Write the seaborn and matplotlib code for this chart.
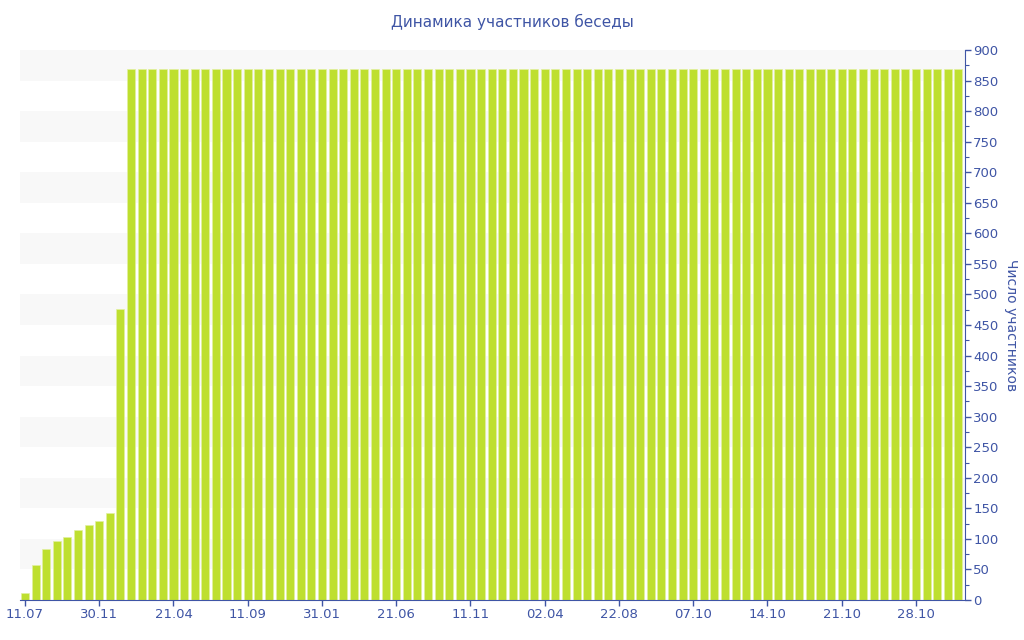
import numpy as np
import pandas as pd
import matplotlib
import matplotlib.pyplot as plt
import seaborn as sns

matplotlib.use('Agg')

# --- данные ---
first_values = [11, 57, 83, 96, 103, 115, 122, 129, 143, 476]
plateau_value = 869
n_bars = 89
members = first_values + [plateau_value] * (n_bars - len(first_values))

tick_labels = ['11.07', '30.11', '21.04', '11.09', '31.01', '21.06', '11.11',
               '02.04', '22.08', '07.10', '14.10', '21.10', '28.10']
tick_step = 7

title = 'Динамика участников беседы'
y_label = 'Число участников'

bar_color = '#BEDF2F'
text_color = '#3F55A5'

df = pd.DataFrame({'idx': np.arange(n_bars), 'members': members})

sns.set_style('white')
plt.rcParams['font.family'] = ['DejaVu Sans']

fig = plt.figure(figsize=(10.24, 6.4), dpi=100)
ax = fig.add_axes([20 / 1024, 1 - 600 / 640, 945 / 1024, 550 / 640])

# полосы сетки
for lo in range(50, 900, 100):
    ax.axhspan(lo, lo + 50, color='#F8F8F8', zorder=0, lw=0)

sns.barplot(data=df, x='idx', y='members', color=bar_color, width=0.76,
            saturation=1, edgecolor='#E2F0A0', linewidth=0.5, ax=ax, zorder=2)

ax.set_xlim(-0.47, 88.62)
ax.set_ylim(0, 900)

ax.set_xticks(np.arange(0, n_bars, tick_step)[:len(tick_labels)])
ax.set_xticklabels(tick_labels)
ax.set_xlabel('')

ax.yaxis.tick_right()
ax.yaxis.set_label_position('right')
ax.set_yticks(np.arange(0, 901, 50))
ax.set_yticks(np.arange(25, 900, 50), minor=True)
ax.set_ylabel(y_label, rotation=-90, labelpad=14, color=text_color, fontsize=10)

ax.tick_params(axis='both', colors=text_color, labelsize=9.5, length=4, width=1,
               labelcolor=text_color, pad=2)
ax.tick_params(axis='y', which='minor', colors=text_color, length=3, width=0.8)
ax.tick_params(axis='x', bottom=True, length=4)

for side in ['top', 'left']:
    ax.spines[side].set_visible(False)
ax.spines['bottom'].set_color(text_color)
ax.spines['right'].set_color(text_color)

fig.text(0.5, 1 - 22 / 640, title, ha='center', va='center',
         color=text_color, fontsize=11)

fig.savefig('out.png', dpi=100)
plt.close(fig)
